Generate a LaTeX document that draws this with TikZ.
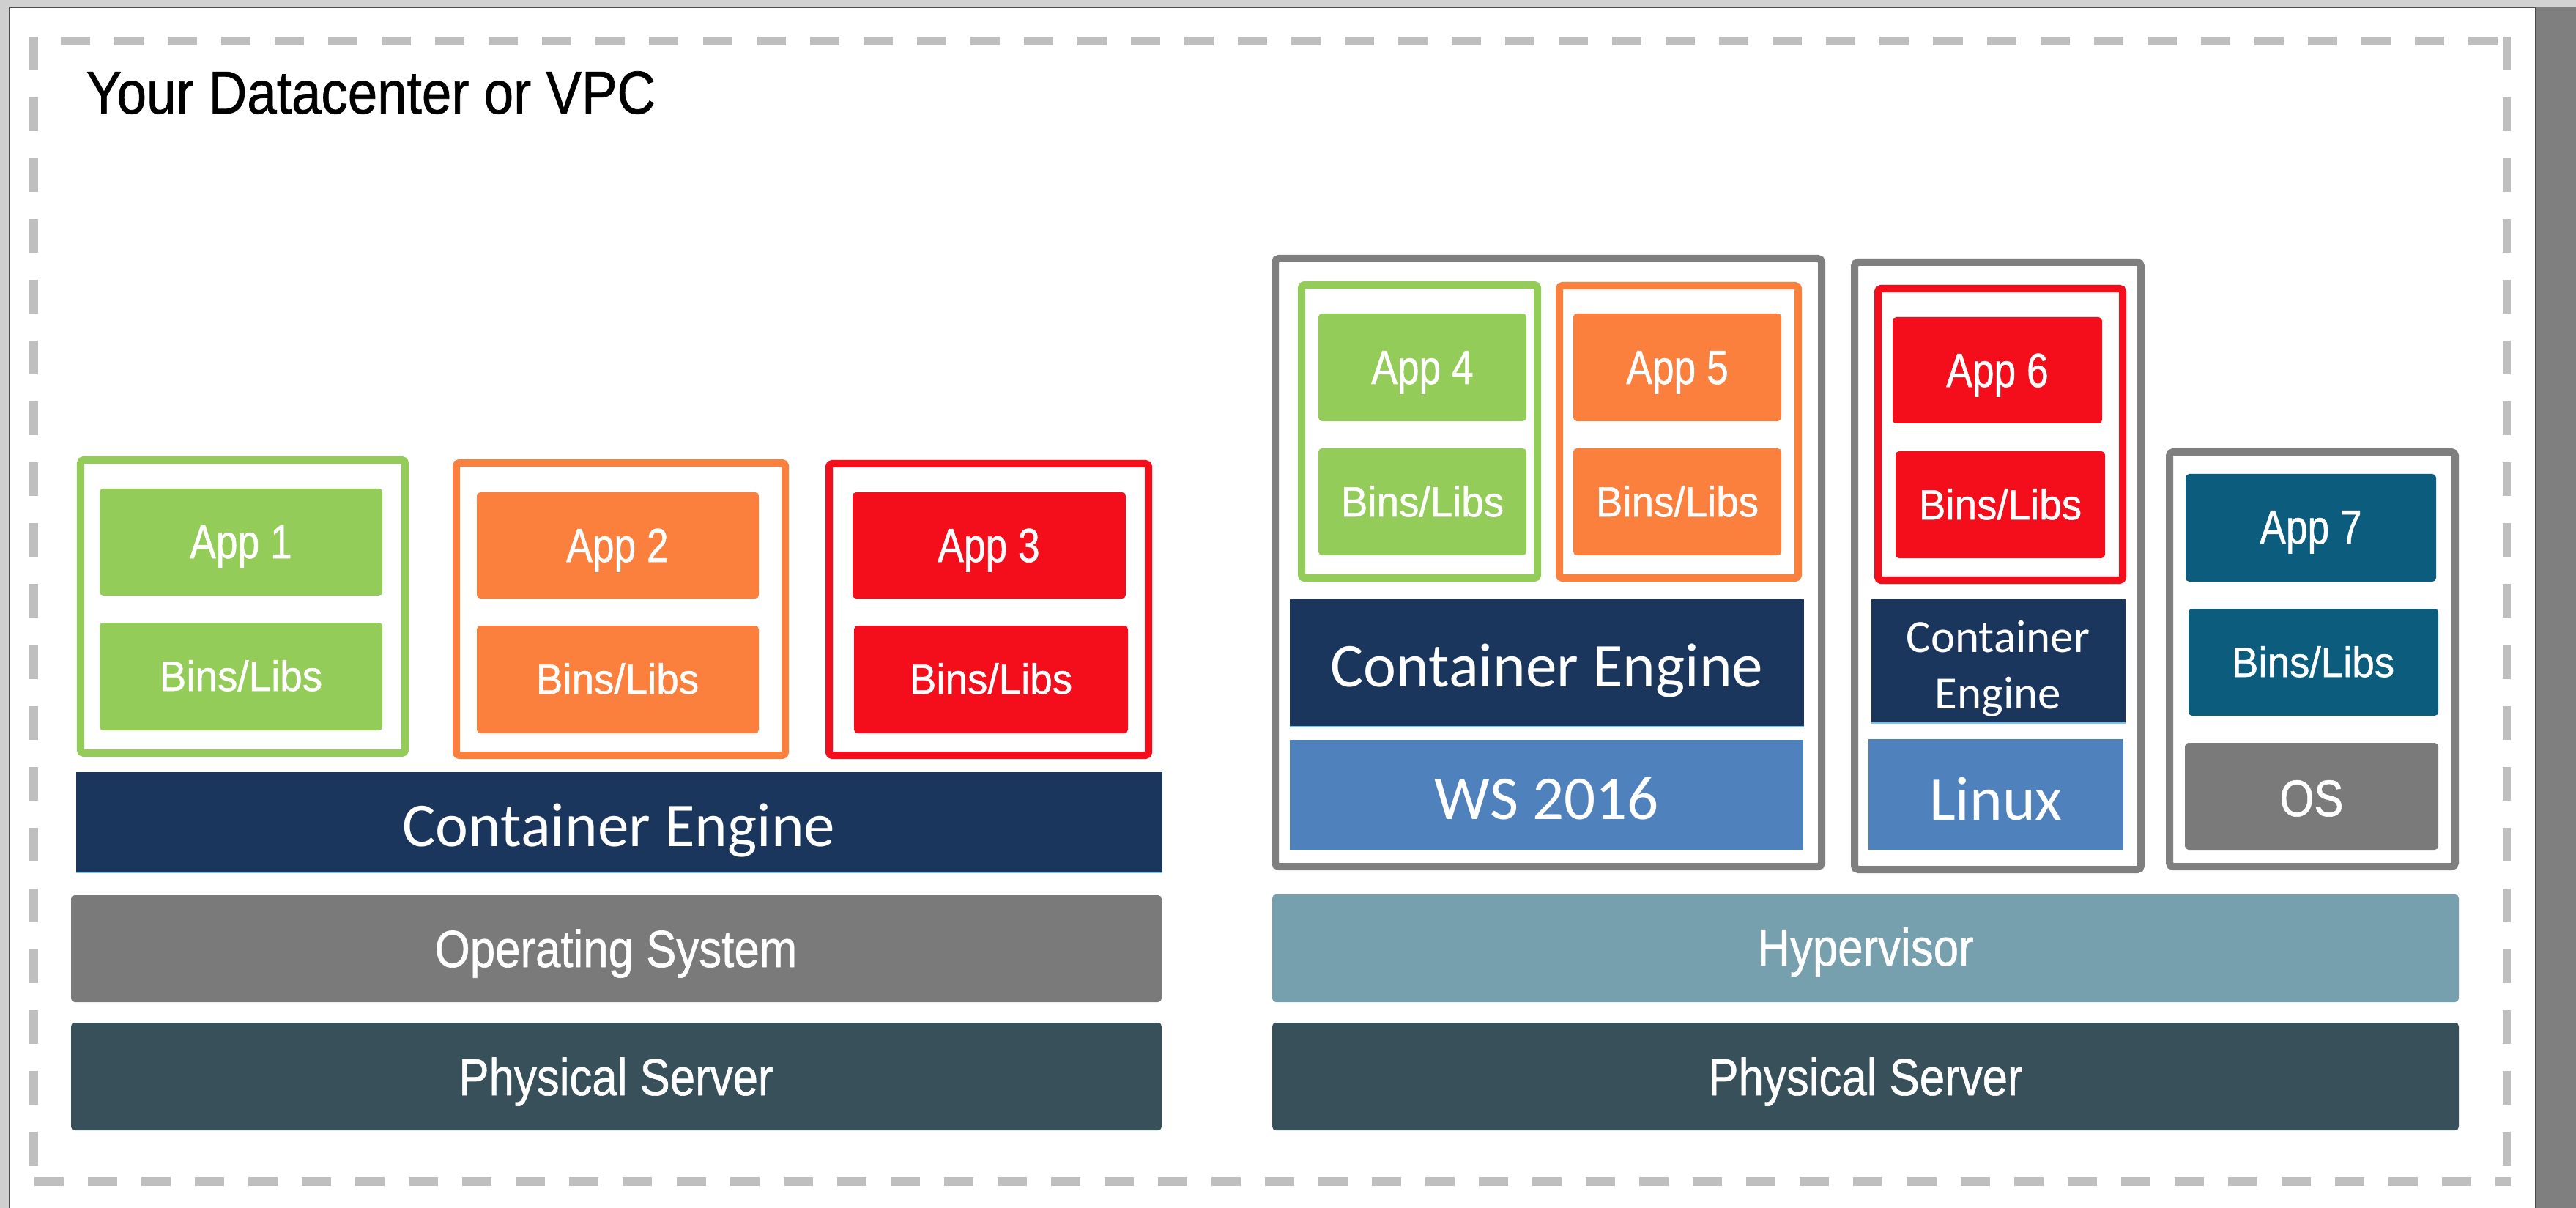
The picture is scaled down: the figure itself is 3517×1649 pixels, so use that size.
\documentclass[tikz,border=0pt]{standalone}
\usepackage{graphicx}
\usepackage{fontspec}
\setmainfont{Liberation Sans}
\newfontfamily\carlito{Carlito}
\newfontfamily\heavysans[FakeBold=0.9]{Liberation Sans}
\definecolor{cgreen}{HTML}{93CC58}
\definecolor{corange}{HTML}{FC803D}
\definecolor{cred}{HTML}{F40D1B}
\definecolor{cnavy}{HTML}{1A365D}
\definecolor{cws}{HTML}{4F81BD}
\definecolor{cosgray}{HTML}{7A7A7A}
\definecolor{cphys}{HTML}{37505A}
\definecolor{chyper}{HTML}{76A0AD}
\definecolor{capp}{HTML}{0B5C7D}
\definecolor{cvm}{HTML}{7F7F7F}
\definecolor{cdash}{HTML}{BFBFBF}
\definecolor{cedge}{HTML}{7CC3E6}
\newcommand\apptext[1]{{\heavysans\fontsize{18.5pt}{20pt}\selectfont\scalebox{0.82}[1]{#1}}}
\newcommand\libtext[1]{{\heavysans\fontsize{16.4pt}{18pt}\selectfont\scalebox{0.95}[1]{#1}}}
\newcommand\bartext[1]{{\heavysans\fontsize{20.2pt}{22pt}\selectfont\scalebox{0.87}[1]{#1}}}
\newcommand\ostext[1]{{\heavysans\fontsize{19.9pt}{22pt}\selectfont\scalebox{0.86}[1]{#1}}}
\newcommand\cetext[1]{{\carlito\fontsize{24.2pt}{26pt}\selectfont #1}}
\newcommand\cesmall[1]{{\carlito\fontsize{17.9pt}{20pt}\selectfont #1}}
\begin{document}
\begin{tikzpicture}[x=0.01cm,y=-0.01cm,
  txt/.style={anchor=base, inner sep=0pt, text=white},
  block/.style={rounded corners=0.05cm},
  holder/.style={line width=0.1cm, rounded corners=0.04cm},
  vmbox/.style={draw=cvm, line width=0.1cm, rounded corners=0.05cm},
  hdash/.style={cdash, line width=0.12cm, dash pattern=on 0.40cm off 0.33cm},
  vdash/.style={cdash, line width=0.11cm, dash pattern=on 0.46cm off 0.37cm},
  ceedge/.style={cedge, line width=0.025cm}]
\useasboundingbox (0,0) rectangle (3517,1649);
% page background
\fill[white] (0,0) rectangle (3517,1649);
\fill[gray!35] (0,0) rectangle (3517,10);
\fill[gray!38] (0,0) rectangle (13,1649);
\fill[cvm] (3462,10) rectangle (3517,1649);
\draw[black!70, line width=0.02cm] (13,1649) -- (13,10) -- (3462,10) -- (3462,1649);
% dashed frame
\draw[hdash] (83,56) -- (3428,56);
\draw[hdash] (47,1613) -- (3428,1613);
\draw[vdash] (46,50) -- (46,1608);
\draw[vdash] (3422,50) -- (3422,1608);
\node (title) [anchor=base west, inner sep=0pt] at (117,155)
  {\heavysans\fontsize{23.5pt}{26pt}\selectfont\scalebox{0.88}[1]{Your Datacenter or VPC}};

% ---------- left stack ----------
\draw[holder, cgreen] (110,628) rectangle (553,1028);
\draw[holder, corange] (623,632) rectangle (1072,1031);
\draw[holder, cred] (1132,633) rectangle (1568,1031);
\fill[block, cgreen] (136,667) rectangle (522,813);
\fill[block, cgreen] (136,850) rectangle (522,997);
\fill[block, corange] (651,672) rectangle (1036,817);
\fill[block, corange] (651,854) rectangle (1036,1001);
\fill[block, cred] (1164,672) rectangle (1537,817);
\fill[block, cred] (1166,854) rectangle (1540,1001);
\node (app1) [txt] at (329,762) {\apptext{App 1}};
\node (bins1) [txt] at (329,943) {\libtext{Bins/Libs}};
\node (app2) [txt] at (843,767) {\apptext{App 2}};
\node (bins2) [txt] at (843,947) {\libtext{Bins/Libs}};
\node (app3) [txt] at (1350,767) {\apptext{App 3}};
\node (bins3) [txt] at (1353,947) {\libtext{Bins/Libs}};
\fill[cnavy] (104,1054) rectangle (1587,1192);
\draw[ceedge] (104,1191) -- (1587,1191);
\node (ce0) [txt] at (845,1155) {\cetext{Container Engine}};
\fill[block, cosgray] (97,1222) rectangle (1586,1368);
\node (os0) [txt] at (841,1320) {\bartext{Operating System}};
\fill[block, cphys] (97,1396) rectangle (1586,1543);
\node (ps0) [txt] at (841,1495) {\bartext{Physical Server}};

% ---------- right stack ----------
\draw[vmbox] (1741,353) rectangle (2487,1183);
\draw[vmbox] (2532,358) rectangle (2923,1187);
\draw[vmbox] (2962,617) rectangle (3352,1183);
% VM 1
\draw[holder, cgreen] (1777,389) rectangle (2099,789);
\draw[holder, corange] (2129,390) rectangle (2455,789);
\fill[block, cgreen] (1800,428) rectangle (2084,575);
\fill[block, cgreen] (1800,612) rectangle (2084,758);
\fill[block, corange] (2148,428) rectangle (2432,575);
\fill[block, corange] (2148,612) rectangle (2432,758);
\node (app4) [txt] at (1942,524) {\apptext{App 4}};
\node (bins4) [txt] at (1942,705) {\libtext{Bins/Libs}};
\node (app5) [txt] at (2290,524) {\apptext{App 5}};
\node (bins5) [txt] at (2290,705) {\libtext{Bins/Libs}};
\fill[cnavy] (1761,818) rectangle (2463,993);
\draw[ceedge] (1761,992) -- (2463,992);
\node (ce1) [txt] at (2112,937) {\cetext{Container Engine}};
\fill[cws] (1761,1010) rectangle (2462,1160);
\node (ws) [txt] at (2112,1118) {\cetext{WS 2016}};
% VM 2
\draw[holder, cred] (2564,394) rectangle (2898,792);
\fill[block, cred] (2584,433) rectangle (2870,578);
\fill[block, cred] (2588,616) rectangle (2874,762);
\node (app6) [txt] at (2727,528) {\apptext{App 6}};
\node (bins6) [txt] at (2731,709) {\libtext{Bins/Libs}};
\fill[cnavy] (2555,818) rectangle (2902,988);
\draw[ceedge] (2555,987) -- (2902,987);
\node (ce2a) [txt] at (2728,890) {\cesmall{Container}};
\node (ce2b) [txt] at (2728,967) {\cesmall{Engine}};
\fill[cws] (2551,1009) rectangle (2899,1160);
\node (linux) [txt] at (2725,1119) {\cetext{Linux}};
% VM 3
\fill[block, capp] (2984,647) rectangle (3326,794);
\fill[block, capp] (2988,831) rectangle (3329,977);
\fill[block, cosgray] (2983,1014) rectangle (3329,1160);
\node (app7) [txt] at (3155,742) {\apptext{App 7}};
\node (bins7) [txt] at (3158,924) {\libtext{Bins/Libs}};
\node (os7) [txt] at (3156,1114) {\ostext{OS}};
% base layers
\fill[block, chyper] (1737,1221) rectangle (3357,1368);
\node (hyper) [txt] at (2547,1318) {\bartext{Hypervisor}};
\fill[block, cphys] (1737,1396) rectangle (3357,1543);
\node (ps1) [txt] at (2547,1495) {\bartext{Physical Server}};
\end{tikzpicture}
\end{document}
